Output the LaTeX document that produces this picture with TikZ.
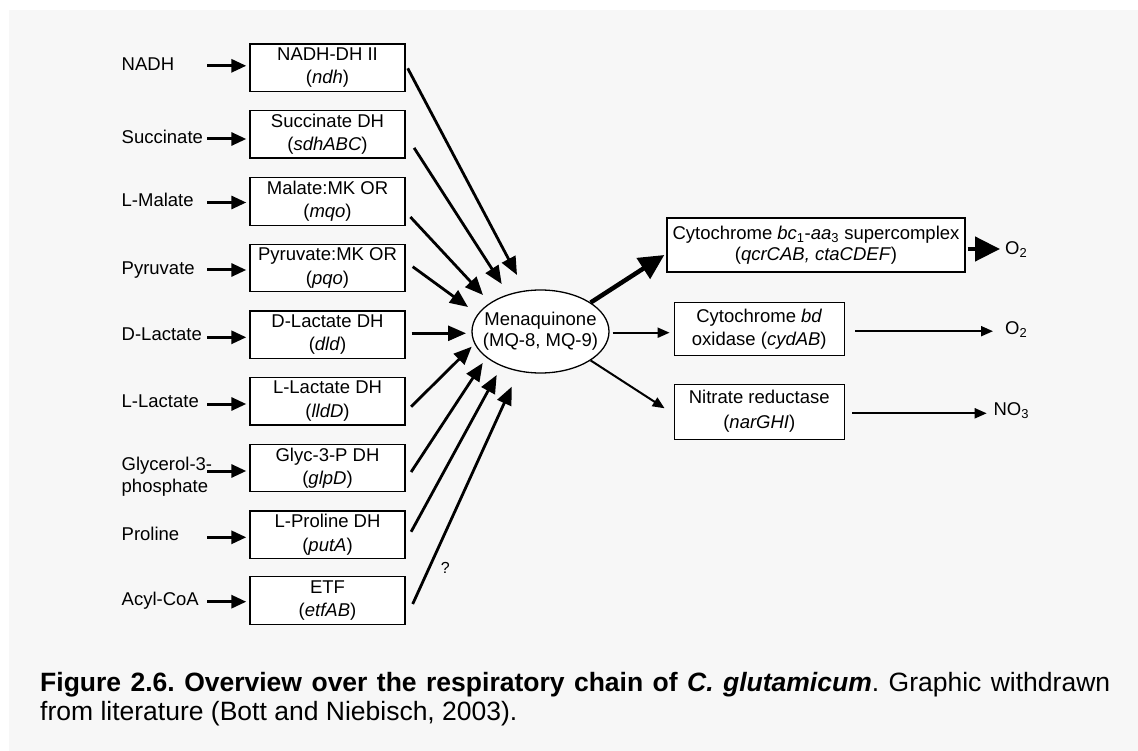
\documentclass[tikz,border=0pt]{standalone}
\usepackage{fontspec}
\setmainfont{Liberation Sans}
\usetikzlibrary{arrows.meta,shapes.geometric,calc}
\definecolor{panelgrey}{HTML}{F7F7F7}
\tikzset{
  enzyme/.style={draw, fill=white, line width=1.4pt, minimum width=155pt,
    minimum height=47.5pt, inner sep=0pt, align=center,
    font=\fontsize{18.5}{23.3}\selectfont},
  substrate/.style={anchor=mid west, inner sep=0pt, align=left,
    font=\fontsize{18.5}{21}\selectfont},
  product/.style={anchor=mid west, inner sep=0pt,
    font=\fontsize{18.5}{21}\selectfont},
  feed/.style={line width=3pt, -{Triangle[length=15pt,width=13pt]}},
  inflow/.style={line width=2.8pt, -{Triangle[length=18pt,width=15pt]}},
  heavy/.style={line width=4.5pt, -{Triangle[length=25pt,width=24pt]}},
  thinflow/.style={line width=2pt, -{Triangle[length=12pt,width=10pt]}},
}
\frenchspacing
\begin{document}
\begin{tikzpicture}[x=1pt,y=-1pt]
  \useasboundingbox (0,0) rectangle (1138,751);
  \fill[white] (0,0) rectangle (1138,751);
  \fill[panelgrey] (9,10) rectangle (1138,751);
  % substrates
  \node[substrate] (nadh) at (121.5,68.2) {NADH};
  \node[substrate] (succ) at (121.5,140.5) {Succinate};
  \node[substrate] (mal) at (121.5,203.8) {L-Malate};
  \node[substrate] (pyr) at (121.5,271.5) {Pyruvate};
  \node[substrate] (dlac) at (121.5,338.2) {D-Lactate};
  \node[substrate] (llac) at (121.5,404.8) {L-Lactate};
  \node[substrate, anchor=west, font=\fontsize{18.5}{22}\selectfont] (g3p) at (121.5,476.5) {Glycerol-3-\\phosphate};
  \node[substrate] (pro) at (121.5,538.2) {Proline};
  \node[substrate] (acyl) at (121.5,602.5) {Acyl-CoA};
  % dehydrogenases
  \node[enzyme] (ndh) at (327.5,67.8) {NADH-DH II\\(\textit{ndh})};
  \node[enzyme] (sdh) at (327.5,134.4) {Succinate DH\\(\textit{sdhABC})};
  \node[enzyme] (mqo) at (327.5,201.5) {Malate:MK OR\\(\textit{mqo})};
  \node[enzyme] (pqo) at (327.5,268) {Pyruvate:MK OR\\(\textit{pqo})};
  \node[enzyme] (dld) at (327.5,334.8) {D-Lactate DH\\(\textit{dld})};
  \node[enzyme] (lld) at (327.5,401.2) {L-Lactate DH\\(\textit{lldD})};
  \node[enzyme] (glp) at (327.5,468) {Glyc-3-P DH\\(\textit{glpD})};
  \node[enzyme] (put) at (327.5,534.8) {L-Proline DH\\(\textit{putA})};
  \node[enzyme] (etf) at (327.5,600.5) {ETF\\(\textit{etfAB})};
  % menaquinone pool
  \node[ellipse, draw, fill=white, line width=1.3pt, minimum width=137pt,
    minimum height=83pt, inner xsep=-12pt, inner ysep=0pt, align=center,
    font=\fontsize{18.5}{21.3}\selectfont] (mq) at (540.5,331.5) {Menaquinone\\(MQ-8, MQ-9)};
  % terminal enzymes
  \node[enzyme, minimum width=298pt, minimum height=54pt,
    font=\fontsize{18.5}{21}\selectfont] (bcaa) at (816,245)
    {Cytochrome \textit{bc}\textsubscript{1}-\textit{aa}\textsubscript{3} supercomplex\\(\textit{qcrCAB, ctaCDEF})};
  \node[enzyme, minimum width=170pt, minimum height=53pt] (cyd) at (759.3,329.2) {Cytochrome \textit{bd}\\oxidase (\textit{cydAB})};
  \node[enzyme, minimum width=170pt, minimum height=55pt, font=\fontsize{18.5}{25}\selectfont] (nar) at (759.3,411.7) {Nitrate reductase\\(\textit{narGHI})};
  \node[product] (o2a) at (1005,251.5) {O\textsubscript{2}};
  \node[product] (o2b) at (1005,332) {O\textsubscript{2}};
  \node[product] (no3) at (993.3,412.5) {NO\textsubscript{3}};
  % substrate -> enzyme
  \draw[feed] ($(ndh.west)+(-42,-2)$) -- ($(ndh.west)+(-3,-2)$);
  \draw[feed] ($(sdh.west)+(-42,4.6)$) -- ($(sdh.west)+(-3,4.6)$);
  \draw[feed] ($(mqo.west)+(-42,1)$) -- ($(mqo.west)+(-3,1)$);
  \draw[feed] ($(pqo.west)+(-42,2)$) -- ($(pqo.west)+(-3,2)$);
  \draw[feed] ($(dld.west)+(-42,2.5)$) -- ($(dld.west)+(-3,2.5)$);
  \draw[feed] ($(lld.west)+(-42,2.8)$) -- ($(lld.west)+(-3,2.8)$);
  \draw[feed] ($(glp.west)+(-42,3)$) -- ($(glp.west)+(-3,3)$);
  \draw[feed] ($(put.west)+(-42,2.5)$) -- ($(put.west)+(-3,2.5)$);
  \draw[feed] ($(etf.west)+(-42,1.2)$) -- ($(etf.west)+(-3,1.2)$);
  % enzyme -> menaquinone
  \draw[inflow] ($(ndh.east)+(2,0.5)$) -- ($(mq.center)+(-23.5,-56.5)$);
  \draw[inflow] ($(sdh.east)+(8.4,13.5)$) -- ($(mq.center)+(-38.8,-47.5)$);
  \draw[inflow] ($(mqo.east)+(4.7,15.5)$) -- ($(mq.center)+(-57.5,-36.5)$);
  \draw[inflow] ($(pqo.east)+(7,-1.3)$) -- ($(mq.center)+(-72.5,-24.5)$);
  \draw[inflow] ($(dld.east)+(6,-1.5)$) -- ($(mq.center)+(-74.5,1.8)$);
  \draw[inflow] ($(lld.east)+(5.4,5.5)$) -- ($(mq.center)+(-68.8,15.2)$);
  \draw[inflow] ($(glp.east)+(5.4,4)$) -- ($(mq.center)+(-57.8,31.5)$);
  \draw[inflow] ($(put.east)+(5.4,-3)$) -- ($(mq.center)+(-43.8,43.5)$);
  \draw[inflow] ($(etf.east)+(7,3.5)$) -- node[pos=0.165, right=7pt, font=\fontsize{16}{18}\selectfont] (unk) {?} ($(mq.center)+(-28.8,55.2)$);
  % menaquinone -> terminal enzymes
  \draw[heavy] (mq.30) -- ($(bcaa.west)+(-2,10)$);
  \draw[thinflow] ($(mq.east)+(3,1.2)$) -- ($(mq.east -| cyd.west)+(-4,1.2)$);
  \draw[thinflow] (mq.-30) -- ($(nar.west)+(-9,-3.4)$);
  % terminal enzymes -> acceptors
  \draw[heavy] ($(bcaa.east)+(2,4)$) -- ($(bcaa.east -| o2a.west)+(-5,4)$);
  \draw[thinflow] ($(cyd.east)+(10,2)$) -- ($(cyd.east -| o2b.west)+(-12,2)$);
  \draw[thinflow] ($(nar.east)+(7,1.6)$) -- ($(nar.east -| no3.west)+(-6.6,1.6)$);
  % caption
  \node[anchor=north west, inner sep=0pt, text width=1070pt, align=justify,
    font=\fontsize{26.5}{28.3}\selectfont] (caption) at (40,672.5)
    {\textbf{Figure 2.6. Overview over the respiratory chain of \textit{C.~glutamicum}}. Graphic withdrawn\linebreak
     from literature (Bott and Niebisch, 2003).};
\end{tikzpicture}
\end{document}
